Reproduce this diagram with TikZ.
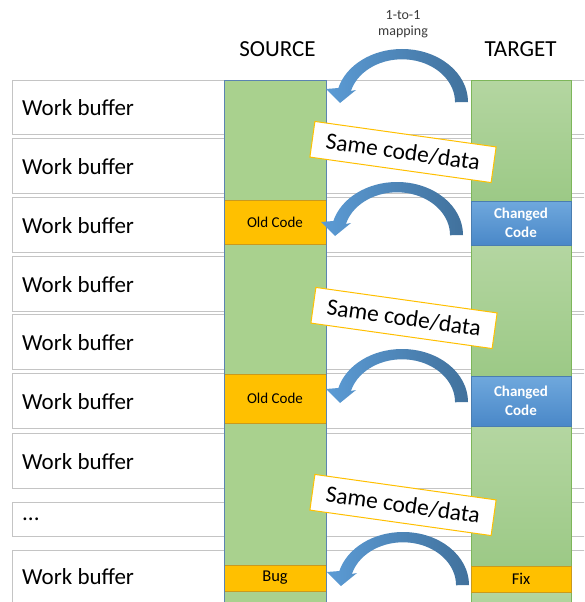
\documentclass[tikz,border=0pt]{standalone}
\usepackage{fontspec}
\setmainfont{Carlito}
\definecolor{rowgray}{HTML}{C4C4C4}
\definecolor{srcfill}{HTML}{A9D18E}
\definecolor{srcedge}{HTML}{5B84B1}
\definecolor{tgtlight}{HTML}{B4D6A1}
\definecolor{tgtdark}{HTML}{9CC986}
\definecolor{tgtedge}{HTML}{7DB65A}
\definecolor{gold}{HTML}{FFC000}
\definecolor{goldedge}{HTML}{C99A1E}
\definecolor{bluetop}{HTML}{6FA8DD}
\definecolor{bluebot}{HTML}{4A88C8}
\definecolor{blueedge}{HTML}{4A7DB0}
\definecolor{arrowlight}{HTML}{5B9BD5}
\definecolor{arrowdark}{HTML}{41719C}
\definecolor{notegray}{HTML}{3A3A3A}
\begin{document}
\begin{tikzpicture}[x=1pt,y=-1pt,
  rowbox/.style={draw=rowgray, line width=1.2pt, fill=white, anchor=north west,
    minimum width=595pt, inner sep=0pt},
  rowlabel/.style={anchor=west, inner sep=0pt, font=\fontsize{23}{27}\selectfont},
  heading/.style={font=\fontsize{23}{27}\selectfont, inner sep=0pt},
  oldbox/.style={draw=goldedge, line width=0.8pt, fill=gold, minimum width=102pt,
    inner sep=0pt, font=\fontsize{15}{18}\selectfont},
  fixbox/.style={draw=goldedge, line width=0.8pt, fill=gold, minimum width=100pt,
    inner sep=0pt, font=\fontsize{16.5}{19}\selectfont},
  newbox/.style={draw=blueedge, line width=0.6pt, top color=bluetop, bottom color=bluebot,
    minimum width=100pt, inner sep=0pt, align=center, text=white,
    font=\fontsize{15}{19}\bfseries\selectfont},
  samebox/.style={draw=gold, line width=1pt, fill=white, minimum width=183pt,
    minimum height=36pt, inner sep=0pt, rotate=-8, font=\fontsize{23.5}{27}\selectfont},
  tgtseg/.style={top color=tgtlight, bottom color=tgtdark, draw=tgtedge, line width=0.8pt},
  swoop/.pic={
    \shade[left color=arrowlight, right color=arrowdark]
      (66,0) arc[start angle=0, end angle=-164.7, x radius=66, y radius=53]
      -- (-76,-13) -- (-62,1) -- (-46,-12)
      -- (-51.1,-11) arc[start angle=-164.8, end angle=0, x radius=53, y radius=43]
      -- cycle;
  }]
\useasboundingbox (0,0) rectangle (584,602);
\clip (0,0) rectangle (584,602);

% work buffer rows
\node[rowbox, minimum height=54pt] (r1) at (12,80) {};
\node[rowbox, minimum height=55pt] (r2) at (12,138) {};
\node[rowbox, minimum height=55pt] (r3) at (12,197) {};
\node[rowbox, minimum height=55pt] (r4) at (12,256) {};
\node[rowbox, minimum height=55pt] (r5) at (12,314) {};
\node[rowbox, minimum height=55pt] (r6) at (12,373) {};
\node[rowbox, minimum height=55pt] (r7) at (12,433) {};
\node[rowbox, minimum height=34pt] (r8) at (12,502) {};
\node[rowbox, minimum height=60pt] (r9) at (12,550) {};
\node[rowlabel] (l1) at ([xshift=10pt]r1.west) {Work buffer};
\node[rowlabel] (l2) at ([xshift=10pt]r2.west) {Work buffer};
\node[rowlabel] (l3) at ([xshift=10pt]r3.west) {Work buffer};
\node[rowlabel] (l4) at ([xshift=10pt]r4.west) {Work buffer};
\node[rowlabel] (l5) at ([xshift=10pt]r5.west) {Work buffer};
\node[rowlabel] (l6) at ([xshift=10pt]r6.west) {Work buffer};
\node[rowlabel] (l7) at ([xshift=10pt]r7.west) {Work buffer};
\node[rowlabel] (l8) at ([xshift=10pt]r8.west) {...};
\node[rowlabel] (l9) at (22,577) {Work buffer};

% headings
\node[heading] (src) at (277.5,49) {SOURCE};
\node[heading] (tgt) at (520.5,49) {TARGET};
\node[font=\fontsize{14}{16}\selectfont, text=notegray, align=center, inner sep=0pt] (map) at (403,24) {1-to-1\\mapping};

% source column
\fill[srcfill] (224,80) rectangle (326,610);
\node[oldbox, minimum height=44pt] (old1) at (275,222) {Old Code};
\node[oldbox, minimum height=49pt] (old2) at (275,398.5) {Old Code};
\node[oldbox, minimum height=26pt, font=\fontsize{16.5}{19}\selectfont] (bug) at (275,578) {Bug};
\draw[srcedge, line width=0.8pt] (224,610) -- (224,80) -- (326,80) -- (326,610);

% target column
\path[tgtseg] (471,80) rectangle (571,201);
\path[tgtseg] (471,245) rectangle (571,376);
\path[tgtseg] (471,426) rectangle (571,566);
\path[tgtseg] (471,592) rectangle (571,640);
\node[newbox, minimum height=44pt] (new1) at (521,223) {Changed\\Code};
\node[newbox, minimum height=50pt] (new2) at (521,401) {Changed\\Code};
\node[fixbox, minimum height=26pt] (fix) at (521,579) {Fix};

% labels between the columns
\node[samebox] (same1) at (403,152) {Same code/data};
\node[samebox] (same2) at (404,318) {Same code/data};
\node[samebox] (same3) at (403,505) {Same code/data};

% curved mapping arrows, target to source
\coordinate (a1) at (402,102);
\coordinate (a2) at (397,235);
\coordinate (a3) at (402,402);
\coordinate (a4) at (403,585);
\pic at (a1) {swoop};
\pic at (a2) {swoop};
\pic at (a3) {swoop};
\pic at (a4) {swoop};
\end{tikzpicture}
\end{document}
